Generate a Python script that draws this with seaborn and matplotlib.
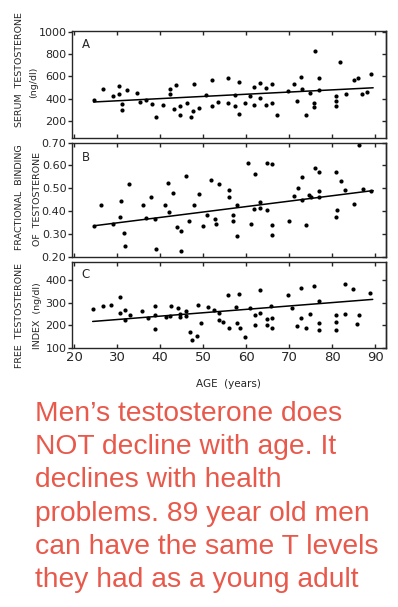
import matplotlib
matplotlib.use("Agg")
import matplotlib.pyplot as plt
import seaborn as sns

# panel A - serum testosterone (ng/dl)
age_a = [24.5, 26.7, 29.0, 30.5, 30.5, 31.0, 31.0, 32.3, 34.6, 35.3, 36.7, 38.0, 39.0,
         40.6, 42.2, 42.3, 43.3, 43.7, 44.7, 44.7, 46.3, 47.1, 47.7, 47.9, 49.1, 50.7,
         52.1, 52.1, 53.5, 55.7, 55.7, 57.4, 57.4, 58.4, 58.4, 59.8, 60.9, 61.9, 61.9,
         63.1, 63.3, 64.6, 64.6, 66.0, 66.0, 67.1, 69.8, 71.0, 71.9, 72.8, 73.0, 73.8,
         74.9, 75.8, 75.8, 75.9, 76.9, 77.0, 80.8, 80.8, 80.8, 81.9, 83.1, 85.0, 86.0,
         87.0, 88.0, 89.0]
serum_a = [385, 488, 424, 509, 440, 348, 300, 476, 452, 367, 391, 348, 239,
           342, 440, 482, 306, 524, 330, 257, 361, 234, 288, 533, 312, 436,
           564, 330, 370, 585, 357, 433, 336, 266, 548, 357, 421, 503, 339,
           536, 403, 491, 339, 527, 357, 257, 470, 527, 379, 591, 488, 257,
           448, 361, 324, 824, 582, 473, 421, 379, 336, 727, 445, 566, 582,
           440, 458, 621]
trend_a_x = [24.5, 89.5]
trend_a_y = [370, 497]

# panel B - fractional binding
age_b = [24.7, 26.2, 29.0, 30.7, 30.9, 31.6, 31.9, 32.7, 36.0, 36.7, 37.9, 38.9, 39.0,
         41.0, 41.9, 42.1, 42.9, 43.9, 44.9, 44.9, 45.9, 46.8, 47.9, 48.9, 49.9, 50.8,
         51.8, 52.8, 53.0, 53.6, 56.0, 56.0, 56.9, 56.9, 57.8, 57.8, 60.3, 61.1, 61.9,
         62.0, 63.1, 63.1, 64.8, 64.9, 66.0, 66.0, 66.0, 69.9, 71.2, 72.1, 72.9, 73.0,
         73.9, 74.7, 75.0, 76.0, 76.9, 77.0, 77.0, 80.9, 81.1, 80.9, 82.0, 82.9, 85.1,
         86.2, 87.1, 89.0]
binding_b = [0.333, 0.425, 0.344, 0.375, 0.446, 0.305, 0.245, 0.518, 0.425, 0.369, 0.460, 0.366, 0.233,
             0.425, 0.524, 0.394, 0.480, 0.329, 0.312, 0.226, 0.554, 0.357, 0.425, 0.476, 0.333, 0.385,
             0.538, 0.366, 0.344, 0.518, 0.494, 0.460, 0.382, 0.357, 0.425, 0.290, 0.610, 0.342, 0.408,
             0.562, 0.439, 0.413, 0.612, 0.404, 0.608, 0.339, 0.297, 0.355, 0.467, 0.500, 0.550, 0.449,
             0.338, 0.470, 0.461, 0.589, 0.488, 0.571, 0.461, 0.571, 0.404, 0.376, 0.530, 0.492, 0.429,
             0.690, 0.495, 0.489]
trend_b_x = [24.7, 89.5]
trend_b_y = [0.336, 0.490]

# panel C - free testosterone index (ng/dl)
age_c = [24.3, 26.7, 28.6, 30.6, 30.6, 31.9, 31.9, 33.0, 35.8, 37.2, 38.8, 38.8, 38.8,
         41.3, 42.2, 42.6, 44.1, 44.7, 44.7, 46.0, 46.0, 46.9, 47.4, 48.6, 48.8, 49.5,
         51.1, 52.6, 53.6, 53.6, 54.6, 55.7, 56.0, 57.7, 57.8, 58.3, 58.6, 59.7, 60.8,
         62.0, 62.0, 63.1, 63.3, 64.8, 64.8, 65.8, 66.0, 66.0, 69.8, 70.7, 71.7, 72.7,
         72.8, 73.9, 74.9, 75.8, 77.0, 77.0, 77.0, 80.8, 80.8, 80.8, 83.0, 83.0, 84.8,
         85.7, 86.2, 88.8]
fti_c = [273, 285, 289, 324, 253, 270, 222, 246, 262, 234, 286, 246, 185,
         235, 240, 286, 277, 237, 250, 262, 243, 171, 135, 154, 289, 210,
         280, 267, 255, 225, 214, 336, 187, 282, 211, 339, 186, 147, 276,
         247, 201, 355, 255, 226, 202, 285, 232, 186, 336, 277, 195, 232,
         364, 186, 250, 373, 310, 211, 180, 247, 216, 177, 382, 249, 360,
         204, 246, 343]
trend_c_x = [24.3, 89.4]
trend_c_y = [217, 315]

age_ticks = [20, 30, 40, 50, 60, 70, 80, 90]

sns.set_style("ticks")
narrow = ["Liberation Sans Narrow", "DejaVu Sans"]
plt.rcParams["font.family"] = narrow

fig = plt.figure(figsize=(3.98, 6.07), dpi=100)

panels = [
    (age_a, serum_a, trend_a_x, trend_a_y, [0.181, 0.773, 0.789, 0.176], (50, 1005),
     [200, 400, 600, 800, 1000], ["200", "400", "600", "800", "1000"], "A"),
    (age_b, binding_b, trend_b_x, trend_b_y, [0.181, 0.577, 0.789, 0.188], (0.20, 0.70),
     [0.2, 0.3, 0.4, 0.5, 0.6, 0.7], ["0.20", "0.30", "0.40", "0.50", "0.60", "0.70"], "B"),
    (age_c, fti_c, trend_c_x, trend_c_y, [0.181, 0.427, 0.789, 0.141], (100, 480),
     [100, 200, 300, 400], ["100", "200", "300", "400"], "C"),
]

for i, (xs, ys, tx, ty, pos, ylim, yt, ytl, letter) in enumerate(panels):
    ax = fig.add_axes(pos)
    sns.scatterplot(x=xs, y=ys, ax=ax, color="black", s=9, linewidth=0)
    sns.lineplot(x=tx, y=ty, ax=ax, color="black", linewidth=1.1)
    ax.set_xlim(19.5, 92.5)
    ax.set_ylim(*ylim)
    ax.set_xticks(age_ticks)
    ax.set_yticks(yt)
    ax.set_yticklabels(ytl, fontsize=8)
    for s in ax.spines.values():
        s.set_linewidth(1.0)
    ax.tick_params(axis="x", direction="in", top=True, bottom=True, length=3, width=1)
    ax.tick_params(axis="y", direction="out", left=True, right=False, length=3, width=1, pad=1)
    sec = ax.secondary_yaxis("right")
    sec.set_yticks(yt)
    sec.tick_params(direction="in", length=3, width=1, labelright=False)
    sec.spines["right"].set_linewidth(1.0)
    if i < 2:
        ax.set_xticklabels([])
    else:
        ax.set_xticklabels([str(t) for t in age_ticks], fontsize=9.5)
        ax.tick_params(axis="x", pad=2)
    ax.text(0.03, 0.93, letter, transform=ax.transAxes, fontsize=8.5, va="top", ha="left")

# y labels (two lines each)
lab = dict(rotation=90, ha="center", va="center", fontsize=6.8)
fig.text(20 / 398, 1 - 70 / 607, "SERUM  TESTOSTERONE", **lab)
fig.text(34 / 398, 1 - 82 / 607, "(ng/dl)", **lab)
fig.text(20 / 398, 1 - 197 / 607, "FRACTIONAL  BINDING", **lab)
fig.text(37 / 398, 1 - 199 / 607, "OF  TESTOSTERONE", **lab)
fig.text(20 / 398, 1 - 315 / 607, "FREE  TESTOSTERONE", **lab)
fig.text(37 / 398, 1 - 316 / 607, "INDEX  (ng/dl)", **lab)

fig.text(228 / 398, 1 - 384 / 607, "AGE  (years)", ha="center", va="center", fontsize=7.5)

msg = ("Men\u2019s testosterone does\n"
       "NOT decline with age. It\n"
       "declines with health\n"
       "problems. 89 year old men\n"
       "can have the same T levels\n"
       "they had as a young adult")
fig.text(35 / 398, 1 - 401 / 607, msg, ha="left", va="top", color="#E8594B",
         fontsize=20.3, linespacing=1.36, family=["Liberation Sans", "DejaVu Sans"])

fig.savefig("out.png", dpi=100)
